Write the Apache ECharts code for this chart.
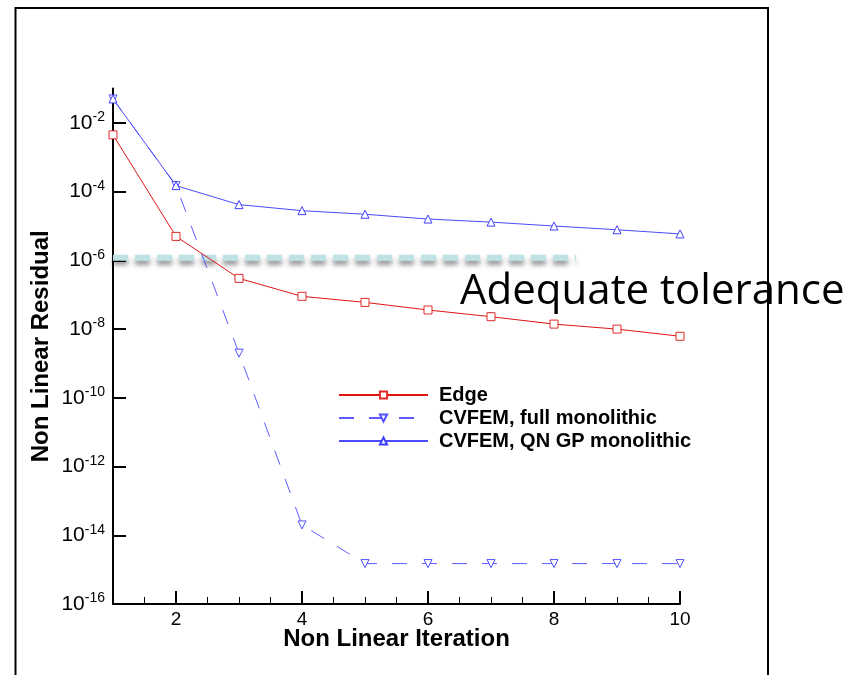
<!DOCTYPE html>
<html lang="en">
<head>
    <meta charset="UTF-8">
    <title>Non Linear Residual</title>
    <script src="https://cdn.jsdelivr.net/npm/echarts@6/dist/echarts.min.js"></script>
    <style>
        html, body {
            margin: 0;
            padding: 0;
            background: #fff;
        }

        #residualChart {
            width: 862px;
            height: 675px;
        }
    </style>
</head>
<body>
<div id="residualChart"></div>
<script>
    // iterations and residuals
    var iterations = [1, 2, 3, 4, 5, 6, 7, 8, 9, 10]
    var edgeResidual = [4.5e-3, 5e-6, 3e-7, 9e-8, 6e-8, 3.6e-8, 2.3e-8, 1.4e-8, 1e-8, 6.2e-9]
    var fullMonolithic = [5e-2, 1.5e-4, 2e-9, 2e-14, 1.5e-15, 1.5e-15, 1.5e-15, 1.5e-15, 1.5e-15, 1.5e-15]
    var qnGpMonolithic = [5e-2, 1.5e-4, 4.2e-5, 2.8e-5, 2.2e-5, 1.6e-5, 1.3e-5, 1e-5, 7.8e-6, 5.9e-6]
    var toleranceX = [1, 8.35]
    var toleranceY = 1.2e-6

    var seriesNames = ['Edge', 'CVFEM, full monolithic', 'CVFEM, QN GP monolithic']
    var xMajorTicks = [2, 4, 6, 8, 10]
    var xMinorTicks = [1.5, 2.5, 3, 3.5, 4.5, 5, 5.5, 6.5, 7, 7.5, 8.5, 9, 9.5]
    var yTicks = [1e-16, 1e-14, 1e-12, 1e-10, 1e-8, 1e-6, 1e-4, 1e-2]
    var tolLabel = 'Adequate tolerance'

    var font = 'Liberation Sans, Arial, Helvetica, sans-serif'

    function pairs (xs, ys) {
        return xs.map((x, idx) => [x, ys[idx]])
    }

    function drawChart () {
        var chart = echarts.init(document.getElementById('residualChart'))
        var option = {
            animation: false,
            backgroundColor: '#fff',
            grid: {
                left: 113,
                right: 182,
                top: 88.6,
                bottom: 71
            },
            legend: {
                data: seriesNames,
                orient: 'vertical',
                left: 333,
                top: 380,
                itemWidth: 89,
                itemHeight: 9,
                itemGap: 3,
                textStyle: {
                    fontFamily: font,
                    fontWeight: 'bold',
                    fontSize: 20,
                    color: '#000',
                    padding: [0, 0, 0, 6]
                }
            },
            xAxis: [{
                type: 'value',
                min: 1,
                max: 10,
                name: 'Non Linear Iteration',
                nameLocation: 'middle',
                nameGap: 23,
                nameMoveOverlap: false,
                nameTextStyle: {
                    fontFamily: font,
                    fontWeight: 'bold',
                    fontSize: 24,
                    color: '#000'
                },
                axisLine: {lineStyle: {color: '#000', width: 2}},
                axisTick: {
                    inside: true,
                    length: 13,
                    customValues: xMajorTicks,
                    lineStyle: {color: '#000', width: 2}
                },
                axisLabel: {
                    customValues: xMajorTicks,
                    margin: 6,
                    fontFamily: font,
                    fontSize: 19,
                    color: '#000'
                },
                splitLine: {show: false}
            }, {
                // only for the small ticks
                type: 'value',
                min: 1,
                max: 10,
                position: 'bottom',
                axisLine: {show: false},
                axisTick: {
                    inside: true,
                    length: 7,
                    customValues: xMinorTicks,
                    lineStyle: {color: '#000', width: 1}
                },
                axisLabel: {show: false},
                splitLine: {show: false}
            }],
            yAxis: {
                type: 'log',
                logBase: 10,
                min: 1e-16,
                max: 1e-1,
                name: 'Non Linear Residual',
                nameLocation: 'middle',
                nameGap: 60,
                nameMoveOverlap: false,
                nameTextStyle: {
                    fontFamily: font,
                    fontWeight: 'bold',
                    fontSize: 24,
                    color: '#000'
                },
                axisLine: {lineStyle: {color: '#000', width: 2}},
                axisTick: {
                    inside: true,
                    length: 13,
                    customValues: yTicks,
                    lineStyle: {color: '#000', width: 2}
                },
                axisLabel: {
                    customValues: yTicks,
                    margin: 8,
                    formatter: function (v) {
                        var p = Math.round(Math.log10(v))
                        return '{b|10}{s|' + p + '}'
                    },
                    rich: {
                        b: {fontFamily: font, fontSize: 21, color: '#000'},
                        s: {fontFamily: font, fontSize: 14, color: '#000', padding: [0, 0, 11, 0]}
                    }
                },
                splitLine: {show: false}
            },
            series: [{
                name: 'tolerance',
                type: 'line',
                z: 1,
                symbol: 'none',
                data: pairs(toleranceX, [toleranceY, toleranceY]),
                lineStyle: {
                    color: '#bfe2e5',
                    width: 6,
                    type: [15, 7],
                    shadowColor: 'rgba(0,0,0,0.45)',
                    shadowBlur: 5,
                    shadowOffsetY: 4
                }
            }, {
                name: seriesNames[0],
                type: 'line',
                z: 3,
                symbol: 'rect',
                symbolSize: 8,
                data: pairs(iterations, edgeResidual),
                lineStyle: {color: '#e01414', width: 1},
                itemStyle: {color: '#fff', borderColor: '#e02828', borderWidth: 1}
            }, {
                name: seriesNames[1],
                type: 'line',
                z: 3,
                symbol: 'triangle',
                symbolRotate: 180,
                symbolSize: 8,
                data: pairs(iterations, fullMonolithic),
                lineStyle: {color: '#5c5cff', width: 1, type: [15, 15]},
                itemStyle: {color: '#fff', borderColor: '#5050ff', borderWidth: 1}
            }, {
                name: seriesNames[2],
                type: 'line',
                z: 3,
                symbol: 'triangle',
                symbolSize: 8,
                data: pairs(iterations, qnGpMonolithic),
                lineStyle: {color: '#4a4aff', width: 1},
                itemStyle: {color: '#fff', borderColor: '#4040ff', borderWidth: 1}
            }],
            graphic: [{
                // slide frame
                type: 'polyline',
                shape: {points: [[15.5, 675], [15.5, 8], [768, 8], [768, 675]]},
                style: {stroke: '#000', lineWidth: 2, fill: null},
                z: 0
            }, {
                type: 'text',
                left: 460,
                top: 271,
                z: 10,
                style: {
                    text: tolLabel,
                    fontFamily: 'Open Sans, Noto Sans, sans-serif',
                    fontSize: 42,
                    fill: '#000'
                }
            }]
        }
        chart.setOption(option)
    }

    window.onload = drawChart
</script>
</body>
</html>
